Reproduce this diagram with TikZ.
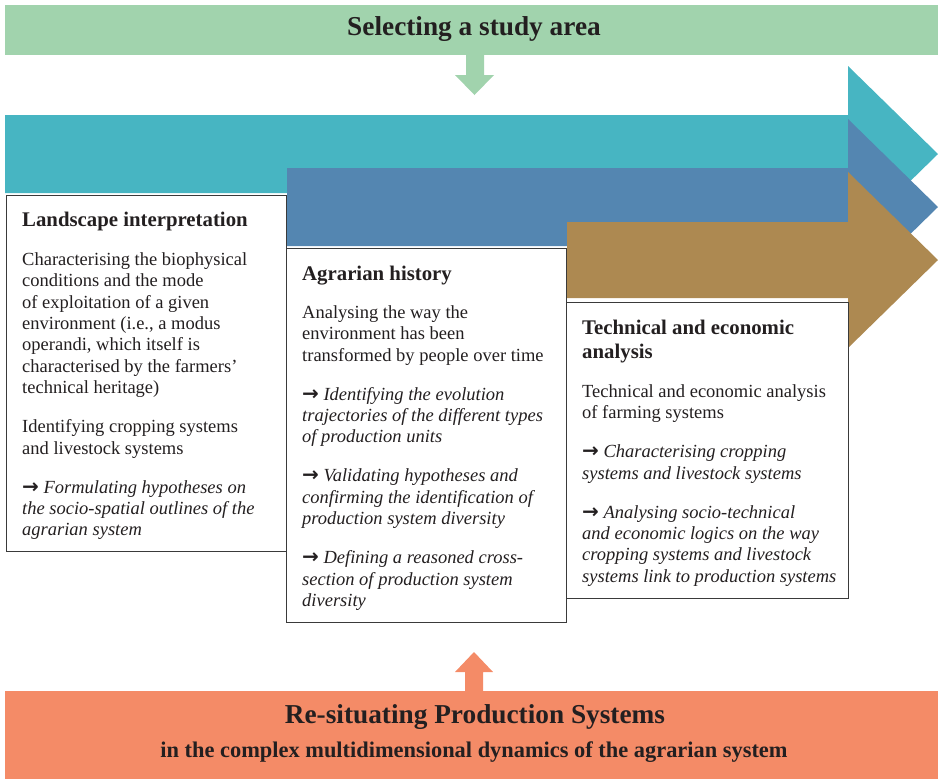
\documentclass[tikz,border=0pt]{standalone}
\usepackage{fontspec}
\setmainfont{Liberation Serif}
\newfontfamily\arrowfont{DejaVu Sans}
\definecolor{bannergreen}{HTML}{A1D3AD}
\definecolor{arrteal}{HTML}{47B5C2}
\definecolor{arrblue}{HTML}{5486B1}
\definecolor{arrbrown}{HTML}{AD8951}
\definecolor{bannerorange}{HTML}{F48B67}
\definecolor{ink}{HTML}{231F20}
\definecolor{framegray}{HTML}{3A3A3A}
\newcommand\mystrut[1]{\rule{0pt}{#1}}
\newcommand\ar{{\arrowfont\bfseries\fontsize{20}{20}\selectfont →}\ }
\begin{document}
\begin{tikzpicture}[x=1pt,y=-1pt,
  boxframe/.style={draw=framegray, line width=1.1pt, fill=white, anchor=north west, inner sep=0pt},
  boxtitle/.style={anchor=north west, inner sep=0pt, text=ink, align=left,
    font=\bfseries\fontsize{20.8}{24}\selectfont},
  boxbody/.style={anchor=north west, inner sep=0pt, text=ink, align=left,
    font=\fontsize{18.5}{21.4}\selectfont},
  banner/.style={anchor=north west, inner sep=0pt},
  bigtitle/.style={text=ink, inner sep=0pt, font=\bfseries\fontsize{27.3}{30}\selectfont},
  subtitle/.style={text=ink, inner sep=0pt, font=\bfseries\fontsize{22.4}{26}\selectfont}]
\useasboundingbox (0,0) rectangle (938,780);

% top banner and arrow
\node (top) [banner, fill=bannergreen, minimum width=933pt, minimum height=50pt] at (5,5) {};
\node (toptext) [bigtitle] at (474,29) {Selecting a study area};
\fill[bannergreen] (466,55) -- (484,55) -- (484,75) -- (494,75) -- (474.5,95) -- (455,75) -- (466,75) -- cycle;

% big arrows
\fill[arrteal] (5,115) -- (848,115) -- (848,66) -- (938,154) -- (848,242) -- (848,193) -- (5,193) -- cycle;
\fill[arrblue] (287,168) -- (848,168) -- (848,119) -- (938,207) -- (848,295) -- (848,246) -- (287,246) -- cycle;
\fill[arrbrown] (567,222) -- (848,222) -- (848,172) -- (938,260) -- (848,348) -- (848,298) -- (567,298) -- cycle;

% boxes
\node (box1) [boxframe, minimum width=280pt, minimum height=356pt] at (6,195) {};
\node (box2) [boxframe, minimum width=280pt, minimum height=374pt] at (286,248) {};
\node (box3) [boxframe, minimum width=282pt, minimum height=296pt] at (566,302) {};

% box 1
\node (t1) [boxtitle] at (22,209) {\mystrut{17pt}Landscape interpretation};
\node (b1) [boxbody] at (22,250) {\mystrut{15pt}Characterising the biophysical\\
conditions and the mode\\
of exploitation of a given\\
environment (i.e., a modus\\
operandi, which itself is\\
characterised by the farmers’\\
technical heritage)\\[17.6pt]
Identifying cropping systems\\
and livestock systems\\[17.6pt]
\ar\textit{Formulating hypotheses on}\\
\textit{the socio-spatial outlines of the}\\
\textit{agrarian system}};

% box 2
\node (t2) [boxtitle] at (302,263) {\mystrut{17pt}Agrarian history};
\node (b2) [boxbody] at (302,303) {\mystrut{15pt}Analysing the way the\\
environment has been\\
transformed by people over time\\[17.6pt]
\ar\textit{Identifying the evolution}\\
\textit{trajectories of the different types}\\
\textit{of production units}\\[17.6pt]
\ar\textit{Validating hypotheses and}\\
\textit{confirming the identification of}\\
\textit{production system diversity}\\[17.6pt]
\ar\textit{Defining a reasoned cross-}\\
\textit{section of production system}\\
\textit{diversity}};

% box 3
\node (t3) [boxtitle] at (582,317) {\mystrut{17pt}Technical and economic\\analysis};
\node (b3) [boxbody] at (582,382) {\mystrut{15pt}Technical and economic analysis\\
of farming systems\\[17.6pt]
\ar\textit{Characterising cropping}\\
\textit{systems and livestock systems}\\[17.6pt]
\ar\textit{Analysing socio-technical}\\
\textit{and economic logics on the way}\\
\textit{cropping systems and livestock}\\
\textit{systems link to production systems}};

% bottom arrow and banner
\fill[bannerorange] (474,652) -- (493,672) -- (483,672) -- (483,691) -- (465,691) -- (465,672) -- (455,672) -- cycle;
\node (bottom) [banner, fill=bannerorange, minimum width=933pt, minimum height=88pt] at (5,691) {};
\node (bottext) [bigtitle] at (475,717) {Re-situating Production Systems};
\node (botsub) [subtitle] at (474,752) {in the complex multidimensional dynamics of the agrarian system};
\end{tikzpicture}
\end{document}
